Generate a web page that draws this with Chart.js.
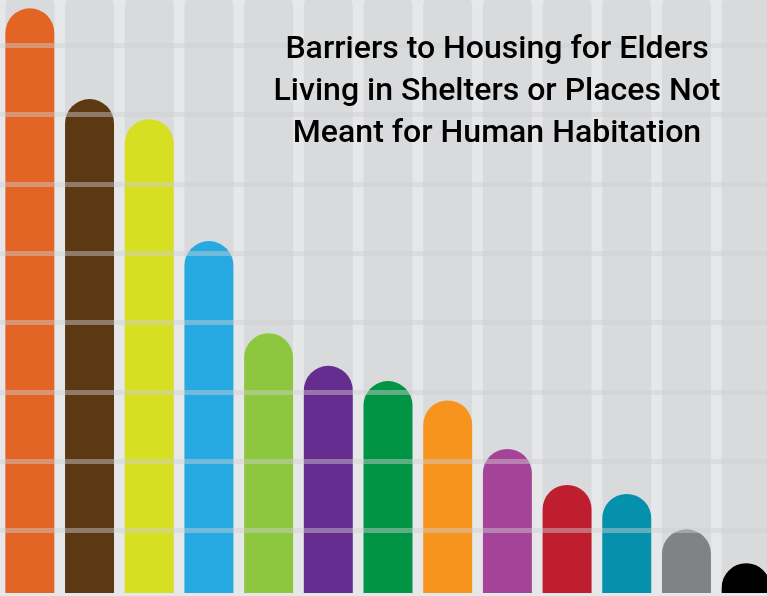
<!DOCTYPE html>
<html>
<head>
<meta charset="utf-8">
<script src="https://cdn.jsdelivr.net/npm/chart.js@4"></script>
<style>
  html, body { margin: 0; padding: 0; overflow: hidden; background: #e6e7e9; }
  canvas { display: block; }
</style>
</head>
<body>
<canvas class="js-chart" width="776" height="596"></canvas>
<script>
const ctx = document.querySelector(".js-chart").getContext("2d");

const barriers = ["1", "2", "3", "4", "5", "6", "7", "8", "9", "10", "11", "12", "13"];
const shares = [84.4, 71.3, 68.4, 50.8, 37.5, 32.8, 30.6, 27.8, 20.8, 15.6, 14.3, 9.2, 4.3];
const trackValues = [88, 88, 88, 88, 88, 88, 88, 88, 88, 88, 88, 88, 88];
const gridValues = [9, 19, 29, 39, 49, 59, 69, 79];
const barColors = [
  "#e36526", "#5c3813", "#d7df23", "#27aae1", "#8dc63f", "#662d91", "#009444",
  "#f7941d", "#a54399", "#be1e2d", "#0590ab", "#808285", "#000000",
];
const titleLines = [
  "Barriers to Housing for Elders",
  "Living in Shelters or Places Not",
  "Meant for Human Habitation",
];

// title sits inside the plot, on top of the bars (condensed look via x-scale)
const titlePlugin = {
  id: "insideTitle",
  afterDraw(chart) {
    const c = chart.ctx;
    c.save();
    c.fillStyle = "#000";
    c.font = "500 32px Roboto, 'Liberation Sans', sans-serif";
    c.textAlign = "center";
    c.textBaseline = "alphabetic";
    const squeeze = 447 / c.measureText(titleLines[1]).width;
    c.translate(497, 0);
    c.scale(squeeze, 1);
    titleLines.forEach((line, i) => {
      c.fillText(line, 0, 58 + i * 42);
    });
    c.restore();
  },
};

new Chart(ctx, {
  type: "bar",
  data: {
    labels: barriers,
    datasets: [
      {
        data: shares,
        backgroundColor: barColors,
        // base below the visible floor so short bars keep a full round top
        base: -5,
        clip: 0,
        borderRadius: { topLeft: 25, topRight: 25 },
        borderSkipped: "start",
        barPercentage: 0.82,
        categoryPercentage: 1,
        grouped: false,
        order: 1,
      },
      {
        data: trackValues,
        backgroundColor: "#d9dadc",
        base: -5,
        clip: 0,
        borderRadius: { topLeft: 25, topRight: 25 },
        borderSkipped: "start",
        barPercentage: 0.82,
        categoryPercentage: 1,
        grouped: false,
        order: 2,
      },
    ],
  },
  options: {
    responsive: false,
    animation: false,
    layout: { padding: { top: 0, bottom: 3, left: 0, right: 0 } },
    plugins: {
      legend: { display: false },
      tooltip: { enabled: false },
    },
    scales: {
      x: { display: false },
      y: {
        min: 0,
        max: 85.6,
        afterBuildTicks(scale) {
          scale.ticks = gridValues.map((v) => ({ value: v }));
        },
        ticks: { display: false },
        border: { display: false },
        grid: {
          z: 1,
          drawTicks: false,
          color: "rgba(206, 207, 209, 0.45)",
          lineWidth: 5,
        },
      },
    },
  },
  plugins: [titlePlugin],
});
</script>
</body>
</html>
